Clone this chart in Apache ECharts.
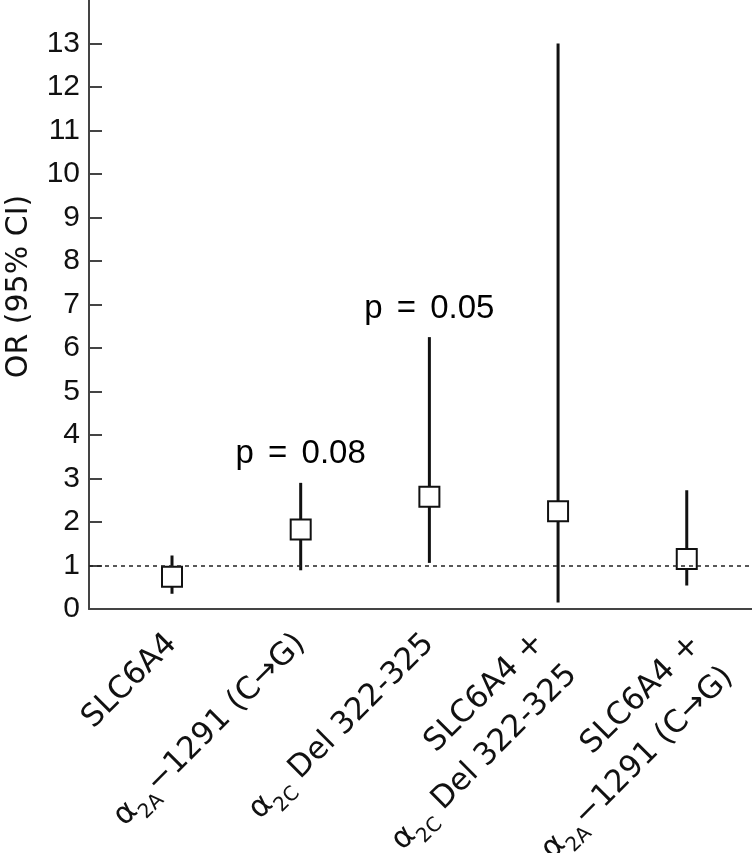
<!DOCTYPE html>
<html>
<head>
<meta charset="utf-8">
<script src="https://cdn.jsdelivr.net/npm/echarts@6/dist/echarts.min.js"></script>
<style>
  html, body { margin: 0; padding: 0; background: #fff; }
  #chart { width: 752px; height: 853px; }
</style>
</head>
<body>
<div id="chart"></div>
<script>
// categories along x, plotted at positions 1..5
// (two-line labels get a blank first line so they sit lower, like the original)
const categories = [
  'SLC6A4',
  '{a|α}{s|2A}{t|−1291 (C→G)}',
  '{a|α}{s|2C}{t| Del 322-325}',
  '{g|}\n{e|SLC6A4 +}\n{a|α}{s|2C}{e| Del 322-325}',
  '{h|}\n{f|SLC6A4 +}\n{a|α}{s|2A}{f|−1291 (C→G)}'
];
const positions = [1, 2, 3, 4, 5];
// blank label slots at the ends, so the min/max label check leaves the real ones alone
const labelSlots = [0.4, 1, 2, 3, 4, 5, 5.45];

// odds ratio and 95% CI
const orValues = [0.74, 1.83, 2.58, 2.25, 1.15];
const ciLower = [0.35, 0.89, 1.06, 0.15, 0.54];
const ciUpper = [1.23, 2.90, 6.25, 13.0, 2.73];

// p-value notes
const pNotes = [
  { x: 2, y: 3.57, text: 'p = 0.08' },
  { x: 3, y: 6.89, text: 'p = 0.05' }
];

const yTicks = [0, 1, 2, 3, 4, 5, 6, 7, 8, 9, 10, 11, 12, 13, 14];

const chart = echarts.init(document.getElementById('chart'));

const axisColor = '#444';
const labelFont = 'DejaVu Sans';
const ink = '#111';
const fs = 31;

chart.setOption({
  animation: false,
  backgroundColor: '#fff',
  grid: { left: 89, right: 0, top: 0, bottom: 244, outerBoundsMode: 'none', containLabel: false },
  xAxis: {
    type: 'value',
    min: 0.355,
    max: 5.507,
    splitLine: { show: false },
    axisLine: { show: true, lineStyle: { color: axisColor, width: 2 } },
    axisTick: { show: false },
    axisLabel: {
      customValues: labelSlots,
      hideOverlap: false,
      rotate: 45,
      margin: 30,
      fontFamily: labelFont,
      fontSize: fs,
      color: ink,
      lineHeight: 46,
      formatter: v => {
        const i = positions.indexOf(v);
        return i < 0 ? '' : categories[i];
      },
      rich: {
        t: { fontFamily: labelFont, fontSize: fs, color: ink, lineHeight: 46 },
        e: { fontFamily: labelFont, fontSize: fs, color: ink, lineHeight: 46, padding: [0, 12, 0, 0] },
        f: { fontFamily: labelFont, fontSize: fs, color: ink, lineHeight: 46, padding: [0, -6, 0, 0] },
        a: { fontFamily: labelFont, fontSize: fs, color: ink, lineHeight: 46 },
        s: { fontFamily: labelFont, fontSize: 20, color: ink, lineHeight: 34, verticalAlign: 'bottom' },
        g: { fontSize: 2, lineHeight: 18 },
        h: { fontSize: 2, lineHeight: 60 }
      }
    }
  },
  yAxis: {
    type: 'value',
    min: yTicks[0],
    max: yTicks[yTicks.length - 1],
    interval: 1,
    name: 'OR (95% CI)',
    nameLocation: 'middle',
    nameGap: 55,
    nameTextStyle: {
      fontFamily: labelFont,
      fontSize: 30,
      color: ink,
      padding: [0, 0, 0, 36]
    },
    splitLine: { show: false },
    axisLine: { show: true, lineStyle: { color: axisColor, width: 2 } },
    axisTick: { show: true, inside: true, length: 13, lineStyle: { color: axisColor, width: 2 } },
    axisLabel: {
      margin: 9,
      fontFamily: 'Liberation Sans',
      fontSize: 30,
      color: ink,
      showMaxLabel: false,
      formatter: v => (v === 14 ? '' : String(v))
    }
  },
  series: [
    {
      type: 'custom',
      data: positions.map((p, i) => [p, orValues[i], ciLower[i], ciUpper[i]]),
      renderItem: (params, api) => {
        const x = api.value(0);
        const mid = api.coord([x, api.value(1)]);
        const lo = api.coord([x, api.value(2)]);
        const hi = api.coord([x, api.value(3)]);
        const s = 20;
        return {
          type: 'group',
          children: [
            {
              type: 'line',
              shape: { x1: lo[0], y1: lo[1], x2: hi[0], y2: hi[1] },
              style: { stroke: ink, lineWidth: 3 }
            },
            {
              type: 'rect',
              shape: { x: mid[0] - s / 2, y: mid[1] - s / 2, width: s, height: s },
              style: { fill: '#fff', stroke: ink, lineWidth: 2 }
            }
          ]
        };
      },
      markLine: {
        silent: true,
        symbol: 'none',
        label: { show: false },
        lineStyle: { color: '#222', type: [4, 4], width: 1.5, opacity: 1 },
        data: [{ yAxis: 1 }]
      },
      z: 3
    },
    {
      type: 'scatter',
      symbolSize: 0,
      silent: true,
      itemStyle: { opacity: 1 },
      data: pNotes.map(d => ({ value: [d.x, d.y], name: d.text })),
      label: {
        show: true,
        position: 'inside',
        // widen the gaps round "=" a little, as in the original
        formatter: p => p.name.replace(' = ', ' {q|=} '),
        fontFamily: 'Liberation Sans',
        fontSize: 33,
        color: '#000',
        opacity: 1,
        rich: {
          q: { fontFamily: 'Liberation Sans', fontSize: 33, color: '#000', padding: [0, 5, 0, 5] }
        }
      }
    }
  ]
});
</script>
</body>
</html>
